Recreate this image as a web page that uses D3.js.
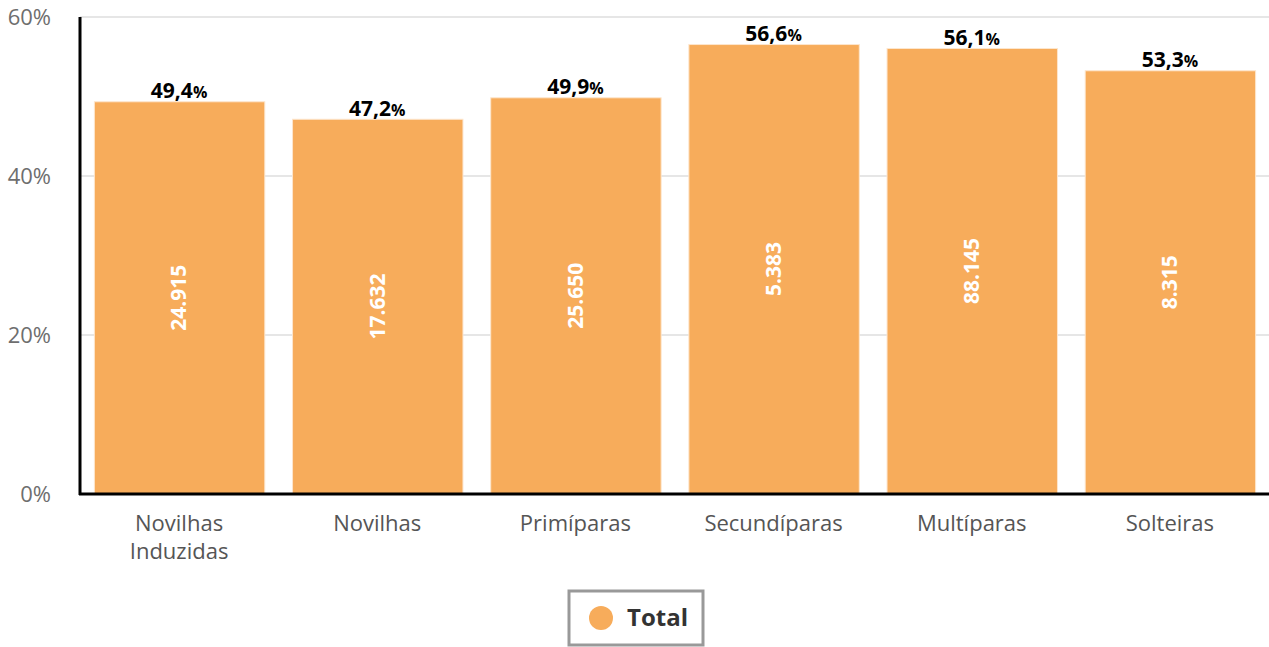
<!DOCTYPE html>
<html>
<head>
<meta charset="utf-8">
<script src="https://cdn.jsdelivr.net/npm/d3@7"></script>
<style>
  body { margin: 0; background: #fff; }
  svg { font-family: "Open Sans", sans-serif; }
</style>
</head>
<body>
<svg width="1269" height="647"></svg>
<script>
const categories = ["Novilhas Induzidas", "Novilhas", "Primíparas", "Secundíparas", "Multíparas", "Solteiras"];
const percents = [49.4, 47.2, 49.9, 56.6, 56.1, 53.3];
const counts = ["24.915", "17.632", "25.650", "5.383", "88.145", "8.315"];
const yTicks = [0, 20, 40, 60];
const seriesName = "Total";
const barColor = "#f7ac5b";

const margin = { top: 17, right: 0, bottom: 153, left: 80 };
const svgSel = d3.select("svg");
const width = +svgSel.attr("width") - margin.left - margin.right;
const height = +svgSel.attr("height") - margin.top - margin.bottom;

const svg = svgSel.append("g")
    .attr("transform", `translate(${margin.left},${margin.top})`);

const x = d3.scaleBand()
    .domain(categories)
    .range([0, width])
    .paddingInner(0.14)
    .paddingOuter(0.07);

const y = d3.scaleLinear()
    .domain([0, 60])
    .range([height, 0]);

// grid lines
svg.selectAll(".grid")
    .data(yTicks.filter(d => d > 0))
    .enter().append("line")
    .attr("x1", 0)
    .attr("x2", width)
    .attr("y1", d => y(d))
    .attr("y2", d => y(d))
    .attr("stroke", "#e6e6e6")
    .attr("stroke-width", 2);

// y axis labels
svg.selectAll(".ylab")
    .data(yTicks)
    .enter().append("text")
    .attr("x", -29)
    .attr("y", d => y(d))
    .attr("dy", "0.35em")
    .attr("text-anchor", "end")
    .attr("fill", "#6e6e6e")
    .style("font-size", "22px")
    .text(d => d + "%");

// bars
svg.selectAll(".bar")
    .data(categories)
    .enter().append("rect")
    .attr("x", d => x(d) + 0.5)
    .attr("y", (d, i) => y(percents[i]) + 0.5)
    .attr("width", x.bandwidth())
    .attr("height", (d, i) => height - y(percents[i]))
    .attr("fill", barColor)
    .attr("stroke", "#fde6cd")
    .attr("stroke-width", 1);

// value labels on top
const valueLabels = svg.selectAll(".top")
    .data(categories)
    .enter().append("text")
    .attr("x", d => x(d) + x.bandwidth() / 2)
    .attr("y", (d, i) => y(percents[i]) - 3)
    .attr("text-anchor", "middle")
    .attr("fill", "#000")
    .style("font-weight", "bold")
    .style("font-size", "21px");
valueLabels.append("tspan").text((d, i) => percents[i].toFixed(1).replace(".", ","));
valueLabels.append("tspan").style("font-size", "16px").text("%");

// counts inside bars
svg.selectAll(".cnt")
    .data(categories)
    .enter().append("text")
    .attr("transform", (d, i) => {
        const cx = x(d) + x.bandwidth() / 2;
        const cy = (y(percents[i]) + height) / 2;
        return `translate(${cx},${cy}) rotate(-90)`;
    })
    .attr("text-anchor", "middle")
    .attr("dy", "0.35em")
    .attr("fill", "#fff")
    .style("font-weight", "bold")
    .style("font-size", "21px")
    .text((d, i) => counts[i]);

// axes lines
svg.append("line")
    .attr("x1", 0).attr("x2", 0)
    .attr("y1", 0).attr("y2", height + 1)
    .attr("stroke", "#000").attr("stroke-width", 3);
svg.append("line")
    .attr("x1", -1).attr("x2", width)
    .attr("y1", height).attr("y2", height)
    .attr("stroke", "#000").attr("stroke-width", 3);

// x labels
const xl = svg.selectAll(".xlab")
    .data(categories)
    .enter().append("text")
    .attr("x", d => x(d) + x.bandwidth() / 2)
    .attr("y", height + 37)
    .attr("text-anchor", "middle")
    .attr("fill", "#555")
    .style("font-size", "22px");
xl.each(function(d) {
    const words = d === "Novilhas Induzidas" ? ["Novilhas", "Induzidas"] : [d];
    const t = d3.select(this);
    words.forEach((w, k) => {
        t.append("tspan")
            .attr("x", x(d) + x.bandwidth() / 2)
            .attr("dy", k === 0 ? 0 : 28)
            .text(w);
    });
});

// legend
const lg = svgSel.append("g").attr("transform", "translate(569,591)");
lg.append("rect")
    .attr("width", 134).attr("height", 54)
    .attr("fill", "#fff")
    .attr("stroke", "#999").attr("stroke-width", 3);
lg.append("circle")
    .attr("cx", 32).attr("cy", 27).attr("r", 12)
    .attr("fill", barColor);
lg.append("text")
    .attr("x", 58).attr("y", 27).attr("dy", "0.35em")
    .attr("fill", "#333")
    .style("font-weight", "bold")
    .style("font-size", "24px")
    .text(seriesName);
</script>
</body>
</html>
